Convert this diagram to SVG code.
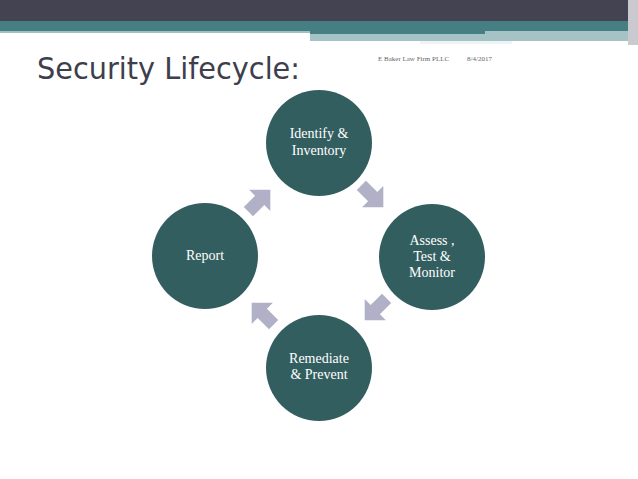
<svg xmlns="http://www.w3.org/2000/svg" width="638" height="479" viewBox="0 0 638 479">
<style>
.n{fill:#335e60}
.t{font-family:"Liberation Serif",serif;font-size:14px;fill:#fff;text-anchor:middle}
.a{fill:#b0b0c6}
</style>
<defs><polygon id="ar" points="-15,-6.5 1,-6.5 1,-15 16,0 1,15 1,6.5 -15,6.5"/></defs>
<rect width="638" height="479" fill="#fff"/>
<rect width="638" height="22" fill="#434351"/>
<rect y="21" width="638" height="10" fill="#467f83"/>
<rect y="31" width="310" height="2" fill="#9fbfc1"/>
<rect x="310" y="31" width="328" height="10" fill="#a5c3c5"/>
<rect x="310" y="31" width="175" height="3" fill="#467f83"/>
<rect x="420" y="41" width="92" height="3" fill="#eef3f3"/>
<rect x="628" y="0" width="10" height="45" fill="#c9c9cf"/>
<text x="37" y="79" font-family="DejaVu Sans,sans-serif" font-size="31" fill="#3e3e4c" textLength="263" lengthAdjust="spacingAndGlyphs">Security Lifecycle:</text>
<text x="378" y="61" font-family="Liberation Serif,serif" font-size="7" fill="#666">E Baker Law Firm PLLC</text>
<text x="467" y="61" font-family="Liberation Serif,serif" font-size="7" fill="#666">8/4/2017</text>
<g id="connectors">
<use href="#ar" class="a" transform="translate(259,201) rotate(-45)"/>
<use href="#ar" class="a" transform="translate(372,196) rotate(45)"/>
<use href="#ar" class="a" transform="translate(376,309) rotate(135)"/>
<use href="#ar" class="a" transform="translate(263,314) rotate(-135)"/>
</g>
<g id="n1"><circle class="n" cx="319" cy="143" r="53"/><text class="t" x="319" y="138">Identify &amp;</text><text class="t" x="319" y="155">Inventory</text></g>
<g id="n2"><circle class="n" cx="432" cy="257" r="53"/><text class="t" x="432" y="245">Assess ,</text><text class="t" x="432" y="261">Test &amp;</text><text class="t" x="432" y="277">Monitor</text></g>
<g id="n3"><circle class="n" cx="319" cy="368" r="53"/><text class="t" x="319" y="363">Remediate</text><text class="t" x="319" y="379">&amp; Prevent</text></g>
<g id="n4"><circle class="n" cx="205" cy="256" r="53"/><text class="t" x="205" y="260">Report</text></g>
</svg>
